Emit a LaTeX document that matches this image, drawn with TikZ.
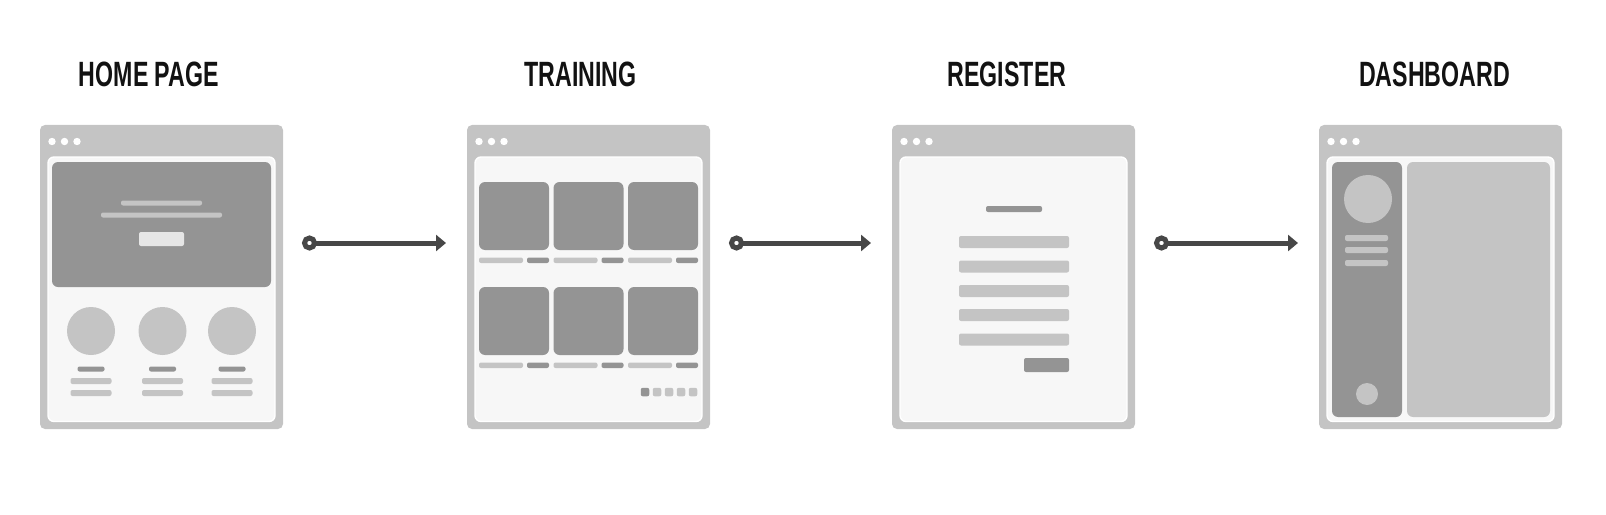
\documentclass[tikz,border=0pt]{standalone}
\usepackage{fontspec}
\setmainfont{Liberation Sans}
\usetikzlibrary{arrows.meta}

\definecolor{framegray}{HTML}{C4C4C4}
\definecolor{darkgray}{HTML}{949494}
\definecolor{panelgray}{HTML}{F7F7F7}
\definecolor{btngray}{HTML}{E6E6E6}
\definecolor{arrowgray}{HTML}{474747}

\begin{document}
\begin{tikzpicture}[
    browser/.style={rectangle, fill=framegray, rounded corners=0.05cm,
                    minimum width=2.43cm, minimum height=3.04cm,
                    inner sep=0pt, outer sep=0pt},
    panel/.style={fill=panelgray, draw=white, line width=0.4pt,
                  rounded corners=0.06cm},
    darkbox/.style={fill=darkgray, rounded corners=0.06cm},
    darkbar/.style={fill=darkgray, rounded corners=0.02cm},
    lightbar/.style={fill=framegray, rounded corners=0.02cm},
    pagetitle/.style={anchor=base, inner sep=0pt, xscale=0.66,
                      text=black!93, font=\bfseries\fontsize{10}{12}\selectfont},
    flow/.style={draw=arrowgray, line width=0.05cm,
                 shorten <=0.19cm, shorten >=0.21cm,
                 arrows={Circle[open, fill=white, length=0.15cm, width=0.15cm]-Triangle[length=0.10cm, width=0.16cm]}}]
    \useasboundingbox (0,0) rectangle (16.06,-5.14);

    % Pages

    \node (hometitle) [pagetitle] at (1.49,-0.87) {HOME PAGE};
    \node (trainingtitle) [pagetitle] at (5.805,-0.87) {TRAINING};
    \node (registertitle) [pagetitle] at (10.07,-0.87) {REGISTER};
    \node (dashboardtitle) [pagetitle] at (14.345,-0.87) {DASHBOARD};

    \node (home) [browser] at (1.615,-2.77) {};
    \node (training) [browser] at (5.885,-2.77) {};
    \node (register) [browser] at (10.135,-2.77) {};
    \node (dashboard) [browser] at (14.405,-2.77) {};

    \foreach \page in {home,training,register,dashboard} {
      \begin{scope}[shift={(\page.north west)}]
        \fill [panel] (0.08,-0.32) rectangle (2.35,-2.965);
        \foreach \x in {0.12,0.245,0.37}
          \fill [white] (\x,-0.165) circle (0.037);
      \end{scope}
    }

    % Home Page

    \begin{scope}[shift={(home.north west)}]
      \fill [darkbox] (0.12,-0.37) rectangle (2.31,-1.62);
      \fill [lightbar] (0.81,-0.755) rectangle (1.62,-0.805);
      \fill [lightbar] (0.61,-0.875) rectangle (1.82,-0.925);
      \fill [btngray, rounded corners=0.02cm] (0.99,-1.07) rectangle (1.44,-1.21);
      \foreach \x in {0.51,1.225,1.92} {
        \fill [framegray] (\x,-2.06) circle (0.24);
        \fill [darkbar] (\x-0.135,-2.415) rectangle (\x+0.135,-2.465);
        \fill [lightbar] (\x-0.205,-2.53) rectangle (\x+0.205,-2.59);
        \fill [lightbar] (\x-0.205,-2.65) rectangle (\x+0.205,-2.71);
      }
    \end{scope}

    % Training

    \begin{scope}[shift={(training.north west)}]
      \foreach \y in {0.57,1.62}
        \foreach \x in {0.12,0.865,1.61} {
          \fill [darkbox] (\x,-\y) rectangle ++(0.70,-0.68);
          \fill [lightbar] (\x,-\y-0.755) rectangle ++(0.44,-0.055);
          \fill [darkbar] (\x+0.48,-\y-0.755) rectangle ++(0.22,-0.055);
        }
      \fill [darkbar] (1.7375,-2.628) rectangle ++(0.085,-0.085);
      \foreach \x in {1.8575,1.9775,2.0975,2.2175}
        \fill [lightbar] (\x,-2.628) rectangle ++(0.085,-0.085);
    \end{scope}

    % Register

    \begin{scope}[shift={(register.north west)}]
      \fill [darkbar] (0.94,-0.81) rectangle (1.50,-0.87);
      \foreach \y in {1.11,1.355,1.60,1.84,2.085}
        \fill [lightbar] (0.67,-\y) rectangle ++(1.10,-0.12);
      \fill [darkbar] (1.32,-2.33) rectangle (1.77,-2.47);
    \end{scope}

    % Dashboard

    \begin{scope}[shift={(dashboard.north west)}]
      \fill [darkbox] (0.13,-0.37) rectangle (0.83,-2.92);
      \fill [framegray, rounded corners=0.06cm] (0.88,-0.37) rectangle (2.31,-2.92);
      \fill [framegray] (0.49,-0.74) circle (0.24);
      \foreach \y in {1.10,1.22,1.35}
        \fill [lightbar] (0.26,-\y) rectangle ++(0.43,-0.06);
      \fill [framegray] (0.48,-2.69) circle (0.11);
    \end{scope}

    % Flow

    \draw [flow] ([yshift=0.34cm]home.east) -- ([yshift=0.34cm]training.west);
    \draw [flow] ([yshift=0.34cm]training.east) -- ([yshift=0.34cm]register.west);
    \draw [flow] ([yshift=0.34cm]register.east) -- ([yshift=0.34cm]dashboard.west);
\end{tikzpicture}
\end{document}
